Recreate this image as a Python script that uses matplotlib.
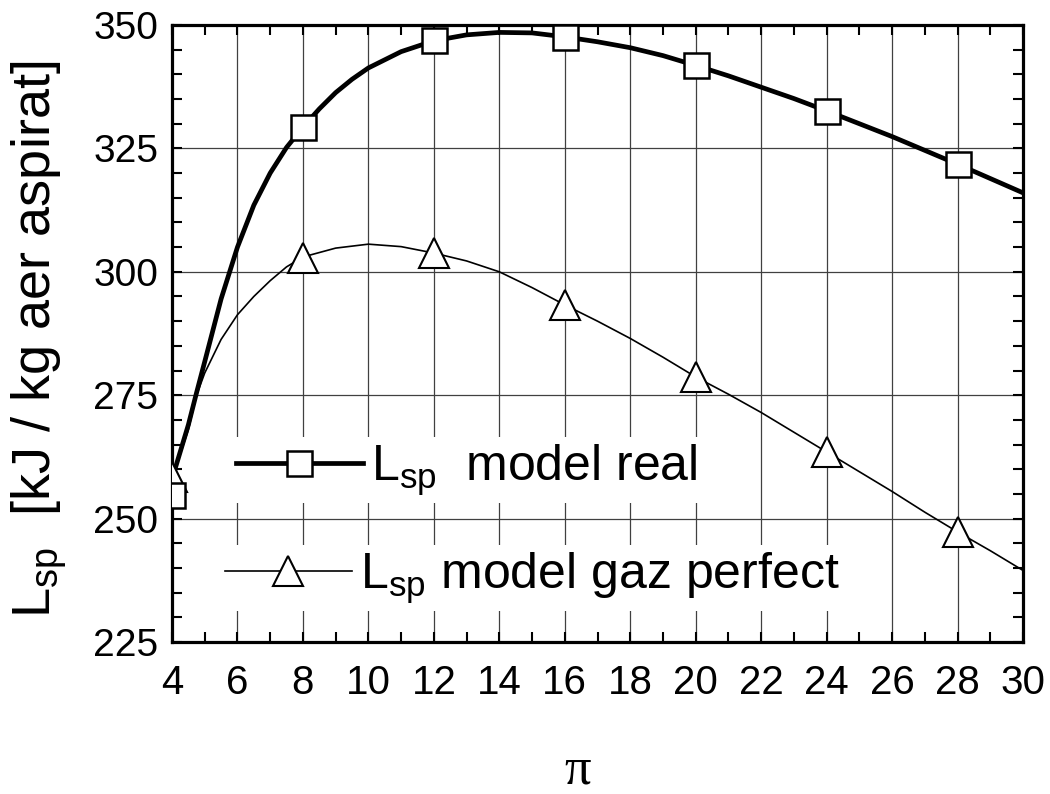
import matplotlib
matplotlib.use('Agg')
import matplotlib.pyplot as plt
from matplotlib.ticker import MultipleLocator

plt.rcParams['font.family'] = 'Liberation Sans'
plt.rcParams['mathtext.fontset'] = 'custom'
plt.rcParams['mathtext.rm'] = 'Liberation Sans'
plt.rcParams['mathtext.it'] = 'Liberation Sans'

# computed curves (pressure ratio pi vs specific work)
pi_real = [4, 4.25, 4.5, 4.75, 5, 5.5, 6, 6.5, 7, 7.5, 8, 8.5, 9, 9.5, 10, 11, 12,
           13, 14, 15, 16, 17, 18, 19, 20, 21, 22, 23, 24, 25, 26, 27, 28, 29, 30]
lsp_real = [258, 263.5, 269, 275.5, 281.8, 294.5, 305, 313.5, 320, 325.2, 329.3, 333,
            336.3, 339, 341.3, 344.6, 346.8, 348, 348.5, 348.4, 347.6, 346.6, 345.4,
            343.8, 341.8, 339.7, 337.4, 335.1, 332.6, 330, 327.4, 324.6, 321.8, 318.9, 316]

pi_gaz = [4, 4.25, 4.5, 4.75, 5, 5.5, 6, 6.5, 7, 7.5, 8, 9, 10, 11, 12, 13, 14, 15,
          16, 17, 18, 19, 20, 21, 22, 23, 24, 25, 26, 27, 28, 29, 30]
lsp_gaz = [258, 263, 268, 275, 279.5, 286.3, 291.3, 295, 298.2, 301, 303, 304.8, 305.6,
           305.1, 303.8, 302.2, 300, 296.8, 293.3, 290, 286.5, 282.7, 278.7, 275.2,
           271.5, 267.5, 263.5, 259.5, 255.5, 251.3, 247.3, 243.5, 239.5]

# marked points
pi_pts = [4, 8, 12, 16, 20, 24, 28]
real_pts = [254.7, 329.3, 347, 347.6, 341.9, 332.6, 321.8]
gaz_pts = [258.5, 302.8, 303.9, 293.3, 278.7, 263.5, 247.3]

xticks = [4, 6, 8, 10, 12, 14, 16, 18, 20, 22, 24, 26, 28, 30]
yticks = [225, 250, 275, 300, 325, 350]

fig = plt.figure(figsize=(10.5, 7.94), dpi=100)
ax = fig.add_axes([172 / 1050, 1 - 642 / 794, 851 / 1050, 617 / 794])

ax.plot(pi_gaz, lsp_gaz, color='black', lw=1.2, zorder=3)
ax.plot(pi_real, lsp_real, color='black', lw=3.4, zorder=3)
ax.plot(pi_pts, gaz_pts, ls='none', marker='^', ms=22, mfc='white', mec='black',
        mew=1.5, zorder=4)
ax.plot(pi_pts, real_pts, ls='none', marker='s', ms=18, mfc='white', mec='black',
        mew=1.8, zorder=5)

ax.set_xlim(4, 30)
ax.set_ylim(225, 350)
ax.set_xticks(xticks)
ax.set_yticks(yticks)
ax.xaxis.set_minor_locator(MultipleLocator(1))
ax.yaxis.set_minor_locator(MultipleLocator(5))
ax.tick_params(which='both', direction='in', top=True, right=True,
               length=7.5, width=1.5, labelsize=28)
ax.tick_params(axis='x', which='both', labelsize=29, pad=16)
ax.tick_params(axis='y', which='both', pad=10)
ax.grid(True, which='major', color='#404040', lw=0.9)
for sp in ax.spines.values():
    sp.set_linewidth(2.3)

ax.set_ylabel('L$_{sp}$  [kJ / kg aer aspirat]', fontsize=39)
ax.yaxis.set_label_coords(-0.121, 0.49)
ax.set_xlabel('\u03c0', fontsize=38, family='Liberation Serif')
ax.xaxis.set_label_coords(0.477, -0.17)

# separate legend boxes, one per series
h_real, = ax.plot([], [], color='black', lw=3.4, marker='s', ms=18, mfc='white',
                  mec='black', mew=1.8)
h_gaz, = ax.plot([], [], color='black', lw=1.2, marker='^', ms=22, mfc='white',
                 mec='black', mew=1.5)
leg_kw = dict(fontsize=36, frameon=True, fancybox=False, framealpha=1,
              edgecolor='none', facecolor='white', handlelength=2.55,
              handletextpad=0.15, borderpad=0.1, borderaxespad=0, loc='center left')
leg1 = ax.legend([h_real], ['L$_{sp}$  model real'],
                 bbox_to_anchor=(0.069, (642 - 470) / 617), **leg_kw)
ax.add_artist(leg1)
leg2 = ax.legend([h_gaz], ['L$_{sp}$ model gaz perfect'],
                 bbox_to_anchor=(0.056, (642 - 578) / 617), **leg_kw)
for lg in (leg1, leg2):
    lg.set_zorder(6)

fig.savefig('out.png', dpi=100)
